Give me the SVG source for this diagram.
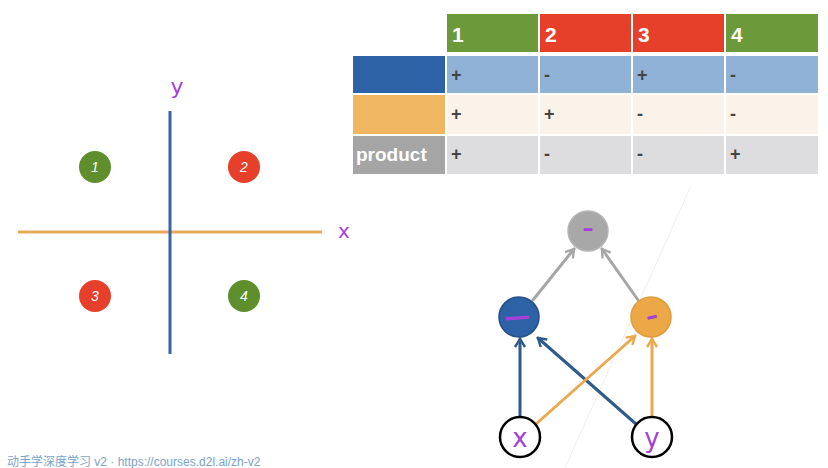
<svg xmlns="http://www.w3.org/2000/svg" width="828" height="468" viewBox="0 0 828 468">
<style>
.hdr{font-family:"Liberation Sans",Arial,sans-serif;font-weight:bold;font-size:21px;fill:#fff}
.cell{font-family:"Liberation Sans",Arial,sans-serif;font-weight:bold;font-size:18px;fill:#444}
.q{font-family:"Liberation Sans",Arial,sans-serif;font-style:italic;font-size:14px;fill:#fff;text-anchor:middle}
.hand{font-family:"DejaVu Sans",sans-serif;fill:#a43fdc;text-anchor:middle}
.conn{fill:none;stroke-width:3;stroke-linecap:round;stroke-linejoin:round}
</style>
<defs>
<marker id="ab" viewBox="0 0 12 12" refX="10" refY="6" markerWidth="12" markerHeight="12" markerUnits="userSpaceOnUse" orient="auto"><path d="M2,1 L10,6 L2,11" fill="none" stroke="#2e5a8c" stroke-width="2.4"/></marker>
<marker id="ao" viewBox="0 0 12 12" refX="10" refY="6" markerWidth="12" markerHeight="12" markerUnits="userSpaceOnUse" orient="auto"><path d="M2,1 L10,6 L2,11" fill="none" stroke="#eaa94e" stroke-width="2.4"/></marker>
<marker id="ag" viewBox="0 0 12 12" refX="10" refY="6" markerWidth="12" markerHeight="12" markerUnits="userSpaceOnUse" orient="auto"><path d="M2,1 L10,6 L2,11" fill="none" stroke="#a6a6a6" stroke-width="2.4"/></marker>
</defs>
<rect width="828" height="468" fill="#fff"/>
<line x1="690" y1="188" x2="565" y2="468" stroke="#eeeeee" stroke-width="1"/>

<g id="table">
<rect x="447" y="14" width="91" height="38" fill="#6c9a3a"/>
<rect x="540" y="14" width="91" height="38" fill="#e6402a"/>
<rect x="633" y="14" width="91" height="38" fill="#e6402a"/>
<rect x="726" y="14" width="92" height="38" fill="#6c9a3a"/>
<text class="hdr" x="452" y="42">1</text>
<text class="hdr" x="545" y="42">2</text>
<text class="hdr" x="638" y="42">3</text>
<text class="hdr" x="731" y="42">4</text>

<rect x="353" y="56" width="92" height="37" fill="#2e62a6"/>
<rect x="447" y="56" width="91" height="37" fill="#8fb2d6"/>
<rect x="540" y="56" width="91" height="37" fill="#8fb2d6"/>
<rect x="633" y="56" width="91" height="37" fill="#8fb2d6"/>
<rect x="726" y="56" width="92" height="37" fill="#8fb2d6"/>
<text class="cell" x="451" y="81">+</text>
<text class="cell" x="544" y="81">-</text>
<text class="cell" x="637" y="81">+</text>
<text class="cell" x="730" y="81">-</text>

<rect x="353" y="95" width="92" height="39" fill="#f0b660"/>
<rect x="447" y="95" width="91" height="39" fill="#fbf2e9"/>
<rect x="540" y="95" width="91" height="39" fill="#fbf2e9"/>
<rect x="633" y="95" width="91" height="39" fill="#fbf2e9"/>
<rect x="726" y="95" width="92" height="39" fill="#fbf2e9"/>
<text class="cell" x="451" y="120">+</text>
<text class="cell" x="544" y="120">+</text>
<text class="cell" x="637" y="120">-</text>
<text class="cell" x="730" y="120">-</text>

<rect x="353" y="136" width="92" height="38" fill="#a5a5a5"/>
<rect x="447" y="136" width="91" height="38" fill="#dddcde"/>
<rect x="540" y="136" width="91" height="38" fill="#dddcde"/>
<rect x="633" y="136" width="91" height="38" fill="#dddcde"/>
<rect x="726" y="136" width="92" height="38" fill="#dddcde"/>
<text class="hdr" x="356" y="161" style="font-size:19px">product</text>
<text class="cell" x="451" y="160">+</text>
<text class="cell" x="544" y="160">-</text>
<text class="cell" x="637" y="160">-</text>
<text class="cell" x="730" y="160">+</text>
</g>

<g id="plot">
<line x1="18" y1="232" x2="322" y2="232" stroke="#e8aa5a" stroke-width="3"/>
<line x1="170" y1="111" x2="170" y2="354" stroke="#3563a3" stroke-width="3"/>
<text class="hand" x="344" y="238" font-size="20">x</text>
<text class="hand" x="177" y="94" font-size="22">y</text>
</g>
<g id="q1"><circle cx="95" cy="167" r="16" fill="#5e8f2c"/><text class="q" x="95" y="172">1</text></g>
<g id="q2"><circle cx="244" cy="167" r="16" fill="#e6402a"/><text class="q" x="244" y="172">2</text></g>
<g id="q3"><circle cx="95" cy="296" r="16" fill="#e6402a"/><text class="q" x="95" y="301">3</text></g>
<g id="q4"><circle cx="244" cy="296" r="16" fill="#5e8f2c"/><text class="q" x="244" y="301">4</text></g>

<g id="connectors">
<line class="conn" x1="533" y1="300" x2="574" y2="249" stroke="#a6a6a6" marker-end="url(#ag)"/>
<line class="conn" x1="638" y1="300" x2="602" y2="249" stroke="#a6a6a6" marker-end="url(#ag)"/>
<line class="conn" x1="520" y1="417" x2="520" y2="339" stroke="#2e5a8c" marker-end="url(#ab)"/>
<line class="conn" x1="636" y1="424" x2="538" y2="338" stroke="#2e5a8c" marker-end="url(#ab)"/>
<line class="conn" x1="536" y1="424" x2="635" y2="336" stroke="#eaa94e" marker-end="url(#ao)"/>
<line class="conn" x1="652" y1="417" x2="652" y2="339" stroke="#eaa94e" marker-end="url(#ao)"/>
</g>

<g id="prod"><circle cx="588" cy="231" r="20" fill="#a8a8a8" stroke="#b5b5b5" stroke-width="1.5"/><text class="hand" x="588" y="236" font-size="22" font-weight="bold">–</text></g>
<g id="hblue"><circle cx="519" cy="317" r="20" fill="#2e62a6" stroke="#264f86" stroke-width="1.5"/><text class="hand" x="517" y="325" font-size="26" font-weight="bold" transform="rotate(-4 519 318)">—</text></g>
<g id="horange"><circle cx="651" cy="317" r="20" fill="#eca846" stroke="#e09a3a" stroke-width="1.5"/><text class="hand" x="652" y="324" font-size="24" font-weight="bold" transform="rotate(-12 652 318)">–</text></g>
<g id="inx"><circle cx="520" cy="437" r="20" fill="#fff" stroke="#000" stroke-width="2.5"/><text class="hand" x="520" y="447" font-size="26">x</text></g>
<g id="iny"><circle cx="652" cy="437" r="20" fill="#fff" stroke="#000" stroke-width="2.5"/><text class="hand" x="652" y="447" font-size="26">y</text></g>

<text x="7" y="466" font-family="'Liberation Sans','Noto Sans CJK SC',sans-serif" font-size="12" fill="#7aa2cc">动手学深度学习 v2 · https://courses.d2l.ai/zh-v2</text>
</svg>
